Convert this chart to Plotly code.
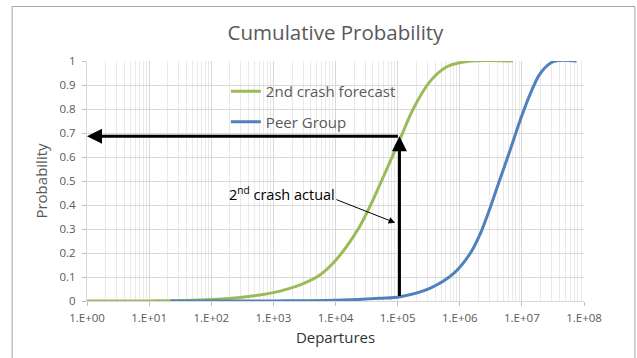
import math
import plotly.graph_objects as go

# ---- data ----
forecast_departures = [1, 10, 65, 290, 1000, 2700, 5600, 9100, 15000, 24500, 36000, 55000,
                       115000, 178000, 330000, 620000, 1.3e6, 7.2e6]
forecast_prob = [0.0, 0.0005, 0.004, 0.015, 0.035, 0.067, 0.108, 0.157, 0.226, 0.31, 0.395, 0.5,
                 0.688, 0.80, 0.914, 0.976, 0.998, 1.0]

peer_departures = [22, 1000, 10000, 52000, 110000, 330000, 800000, 1.48e6, 2.14e6, 3.1e6, 4.2e6,
                   6.5e6, 9.3e6, 1.35e7, 2.0e7, 3.2e7, 7.6e7]
peer_prob = [0.0, 0.0005, 0.003, 0.011, 0.018, 0.053, 0.115, 0.199, 0.28, 0.39, 0.49,
             0.63, 0.75, 0.86, 0.95, 0.997, 1.0]

actual_departures = 1.07e5
actual_prob = 0.686
actual_floor_prob = 0.015

x_tick_vals = [1, 10, 100, 1e3, 1e4, 1e5, 1e6, 1e7, 1e8]
x_tick_text = ["1.E+00", "1.E+01", "1.E+02", "1.E+03", "1.E+04", "1.E+05", "1.E+06", "1.E+07", "1.E+08"]
y_tick_vals = [0, 0.1, 0.2, 0.3, 0.4, 0.5, 0.6, 0.7, 0.8, 0.9, 1]
y_tick_text = ["0", "0.1", "0.2", "0.3", "0.4", "0.5", "0.6", "0.7", "0.8", "0.9", "1"]

FONT = "Open Sans"
GREY = "#595959"

fig = go.Figure()
fig.add_trace(go.Scatter(x=forecast_departures, y=forecast_prob, mode="lines",
                         name="2nd crash forecast", legendgroup="a",
                         line=dict(color="#9BBB59", width=3, shape="spline", smoothing=1.0)))
fig.add_trace(go.Scatter(x=peer_departures, y=peer_prob, mode="lines",
                         name="Peer Group", legendgroup="b",
                         line=dict(color="#4F81BD", width=3, shape="spline", smoothing=1.0)))

lx = math.log10(actual_departures)
annotations = [
    dict(x=0, y=actual_prob, ax=lx, ay=actual_prob, xref="x", yref="y", axref="x", ayref="y",
         text="", showarrow=True, arrowhead=2, arrowsize=1, arrowwidth=3, arrowcolor="black",
         standoff=0, startstandoff=0),
    dict(x=lx, y=actual_prob, ax=lx, ay=actual_floor_prob, xref="x", yref="y", axref="x", ayref="y",
         text="", showarrow=True, arrowhead=2, arrowsize=1, arrowwidth=3, arrowcolor="black",
         standoff=0, startstandoff=0),
    dict(x=4.96, y=0.326, ax=3.99, ay=0.425, xref="x", yref="y", axref="x", ayref="y",
         text="", showarrow=True, arrowhead=2, arrowsize=1.3, arrowwidth=1, arrowcolor="black"),
    dict(x=2.25, y=0.447, xref="x", yref="y", xanchor="left", yanchor="middle",
         text="2<sup>nd</sup> crash actual", showarrow=False,
         font=dict(family=FONT, size=14.5, color="black")),
]

fig.update_layout(
    width=637, height=358,
    margin=dict(l=87, r=53, t=61, b=57),
    paper_bgcolor="white", plot_bgcolor="white",
    title=dict(text="Cumulative Probability", x=0.5, xref="paper", xanchor="center",
               y=1 - 33 / 358, yanchor="middle",
               font=dict(family=FONT, size=20.5, color=GREY)),
    font=dict(family=FONT, color=GREY),
    showlegend=True,
    legend=dict(x=(226 - 87.3) / 496.4, y=(301 - 75) / 240, xanchor="left", yanchor="top",
                bgcolor="rgba(0,0,0,0)", font=dict(family=FONT, size=15, color=GREY),
                traceorder="grouped", tracegroupgap=8, itemwidth=30),
    annotations=annotations,
    shapes=[dict(type="rect", xref="paper", yref="paper",
                 x0=(12.5 - 87.3) / 496.4, x1=(634.5 - 87.3) / 496.4,
                 y0=(301 - 370) / 240, y1=(301 - 6.5) / 240,
                 line=dict(color="#a6a6a6", width=1), layer="below")],
)

fig.update_xaxes(type="log", range=[0, 8], tickvals=x_tick_vals, ticktext=x_tick_text,
                 showgrid=True, gridcolor="#d9d9d9", gridwidth=1,
                 minor=dict(showgrid=True, gridcolor="#e9e9e9", dtick="D1", ticks=""),
                 ticks="outside", ticklen=4, tickcolor="#bfbfbf",
                 ticklabelstandoff=2,
                 tickfont=dict(family=FONT, size=11.5, color=GREY),
                 showline=True, linecolor="#d9d9d9", zeroline=False,
                 title=dict(text="Departures", font=dict(family=FONT, size=15, color="#333333"),
                            standoff=8))
fig.update_yaxes(range=[0, 1], tickvals=y_tick_vals, ticktext=y_tick_text,
                 showgrid=True, gridcolor="#d9d9d9", gridwidth=1,
                 ticks="outside", ticklen=4, tickcolor="#bfbfbf",
                 ticklabelstandoff=4,
                 tickfont=dict(family=FONT, size=11.5, color=GREY),
                 showline=True, linecolor="#d9d9d9", zeroline=False,
                 title=dict(text="Probability", font=dict(family=FONT, size=15, color=GREY),
                            standoff=8))

fig.write_html("out.html", config={"displayModeBar": False},
               post_script="document.body.style.margin='0';document.body.style.overflow='hidden';")
